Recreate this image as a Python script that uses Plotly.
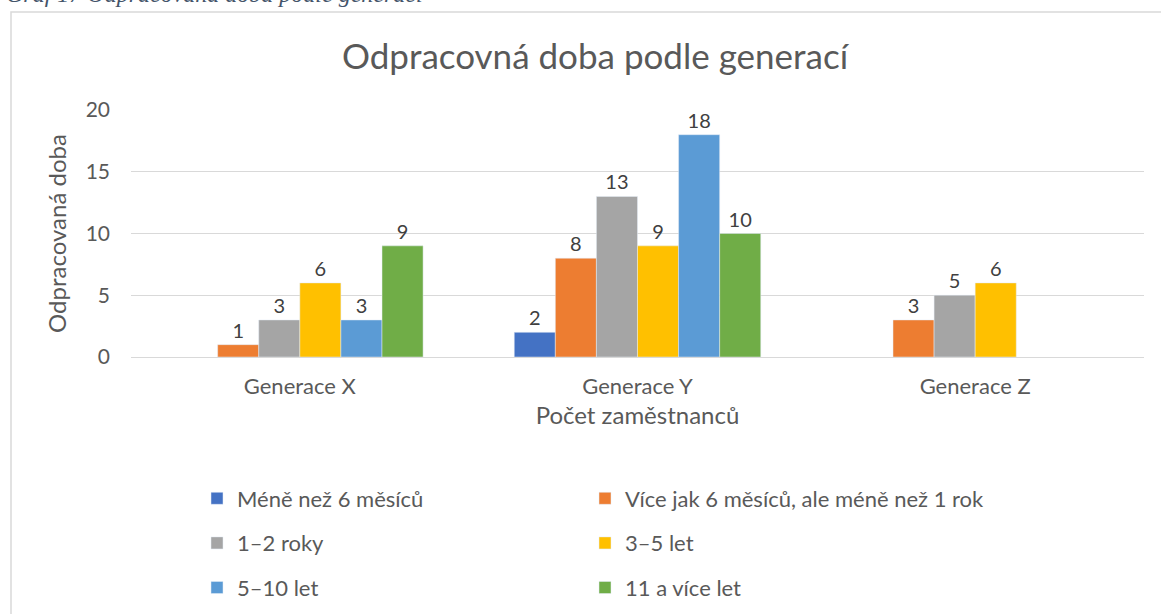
import plotly.graph_objects as go

categories = ["Generace X", "Generace Y", "Generace Z"]
series_names = [
    "Méně než 6 měsíců",
    "Více jak 6 měsíců, ale méně než 1 rok",
    "1–2 roky",
    "3–5 let",
    "5–10 let",
    "11 a více let",
]
mene_6m = [None, 2, None]
vice_6m = [1, 8, 3]
roky_1_2 = [3, 13, 5]
let_3_5 = [6, 9, 6]
let_5_10 = [3, 18, None]
let_11 = [9, 10, None]
series_values = [mene_6m, vice_6m, roky_1_2, let_3_5, let_5_10, let_11]
colors = ["#4472C4", "#ED7D31", "#A5A5A5", "#FFC000", "#5B9BD5", "#70AD47"]
y_ticks = [0, 5, 10, 15, 20]

W, H = 1161, 614
L, R, T, B = 131, 1144, 110, 357


def px(x):
    return (x - L) / (R - L)


def py(y):
    return (B - y) / (B - T)


FONT = "Lato"
TXT = "#595959"
legend_keys = ["legend", "legend2", "legend", "legend2", "legend", "legend2"]

fig = go.Figure()
for i, (name, vals, col, lg) in enumerate(zip(series_names, series_values, colors, legend_keys)):
    fig.add_trace(go.Bar(
        name=name, x=categories, y=vals, marker_color=col,
        text=[("" if v is None else str(v)) for v in vals],
        textposition="outside", cliponaxis=False,
        textfont=dict(size=20, color="#404040", family=FONT),
        legend=lg, legendgroup=f"g{i}",
    ))

leg_common = dict(orientation="v", xanchor="left", yanchor="middle",
                  tracegroupgap=13, traceorder="grouped",
                  font=dict(size=22, color=TXT, family=FONT),
                  bgcolor="rgba(0,0,0,0)", itemclick=False, itemdoubleclick=False)

fig.update_layout(
    width=W, height=H,
    margin=dict(l=L, r=W - R, t=T, b=H - B, autoexpand=False),
    paper_bgcolor="white", plot_bgcolor="white",
    font=dict(family=FONT, color=TXT),
    barmode="group", bargap=0.27, bargroupgap=0,
    title=dict(text="Odpracovná doba podle generací", x=595 / W, xanchor="center",
               y=1 - 57 / H, yanchor="middle", yref="container", xref="container",
               font=dict(size=35, color=TXT, family=FONT)),
    xaxis=dict(showgrid=False, showline=True, linecolor="#D9D9D9", linewidth=1,
               tickfont=dict(size=22, color=TXT), ticklabelstandoff=10,
               title=dict(text="Počet zaměstnanců", standoff=8,
                          font=dict(size=24, color=TXT))),
    yaxis=dict(range=[0, 20], tickvals=y_ticks, showgrid=True, gridcolor="#D9D9D9",
               gridwidth=1, zeroline=False, showline=False,
               tickfont=dict(size=21, color=TXT), ticklabelstandoff=20,
               title=dict(text="Odpracovaná doba", standoff=12,
                          font=dict(size=24, color=TXT))),
    legend=dict(x=px(197), y=py(543), **leg_common),
    legend2=dict(x=px(585), y=py(543), **leg_common),
    showlegend=True,
)

# outer chart border (partially visible, as in the reference)
fig.add_shape(type="path", xref="paper", yref="paper",
              path=f"M {px(11)},{py(700)} L {px(11)},{py(12)} L {px(1200)},{py(12)}",
              line=dict(color="#D9D9D9", width=1.5))

# document caption above the chart, cut off at the top edge
fig.add_annotation(text="<i>Graf 17 Odpracovaná doba podle generací</i>",
                   xref="paper", yref="paper", x=px(4), y=py(-6),
                   xanchor="left", yanchor="middle", showarrow=False,
                   font=dict(size=24, family="Liberation Serif", color="#44546A"))

fig.write_html("out.html", config={"displayModeBar": False},
               post_script="document.body.style.margin='0';")
